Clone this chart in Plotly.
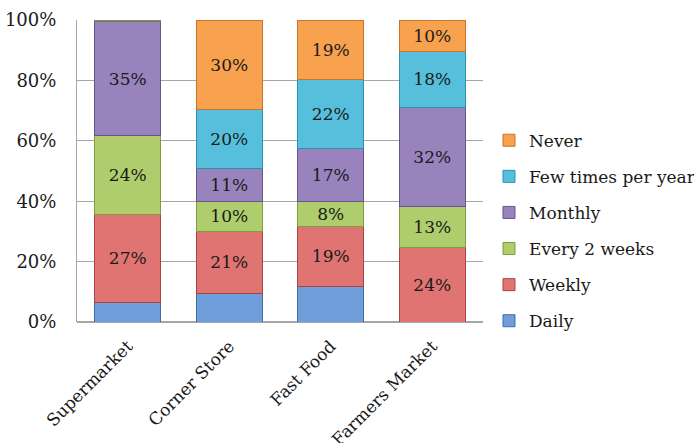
import plotly.graph_objects as go

categories = ["Supermarket", "Corner Store", "Fast Food", "Farmers Market"]
series_names = ["Daily", "Weekly", "Every 2 weeks", "Monthly", "Few times per year", "Never"]
daily = [6, 9.5, 11.5, 0]
weekly = [27, 21, 19, 24]
every2 = [24, 10, 8, 13]
monthly = [35, 11, 17, 32]
fewtimes = [0.4, 20, 22, 18]
never = [0, 30, 19, 10]
show_label = [False, True, True, True, True, True]
y_ticks = [0, 20, 40, 60, 80, 100]
y_ticklabels = ["0%", "20%", "40%", "60%", "80%", "100%"]

values = [daily, weekly, every2, monthly, fewtimes, never]
fills = ["#6f9edb", "#df7472", "#afcd6c", "#9983bd", "#56c0dc", "#f8a24f"]
edges = ["#3f6ea8", "#a84442", "#7f9d3c", "#69538d", "#2e90ac", "#c8722a"]

FONT = "DejaVu Serif"
fig = go.Figure()
n = len(series_names)
for i, (name, vals, fc, ec, lab) in enumerate(zip(series_names, values, fills, edges, show_label)):
    txt = [f"{v:.0f}%" if (lab and v >= 1) else "" for v in vals]
    fig.add_trace(go.Bar(
        x=categories, y=vals, name=name, legendgroup=name, legendrank=n - i,
        marker=dict(color=fc, line=dict(color=ec, width=1)),
        text=txt, textposition="inside", insidetextanchor="middle",
        textangle=0, constraintext="none",
        textfont=dict(family=FONT, size=17, color="#1a1a1a"),
    ))

fig.update_layout(
    barmode="stack", barnorm="percent", bargap=0.35,
    width=694, height=443,
    margin=dict(l=77, r=211, t=20, b=121),
    paper_bgcolor="white", plot_bgcolor="white",
    font=dict(family=FONT, size=17, color="#1a1a1a"),
    uniformtext=dict(minsize=17, mode="show"),
    legend=dict(
        traceorder="grouped", tracegroupgap=11,
        xref="container", x=0.7046, xanchor="left",
        y=0.66, yanchor="top",
        font=dict(family=FONT, size=17, color="#1a1a1a"),
        itemclick=False, borderwidth=0, bgcolor="rgba(0,0,0,0)",
    ),
    showlegend=True,
)
fig.update_yaxes(
    range=[0, 100], tickvals=y_ticks, ticktext=y_ticklabels,
    showgrid=True, gridcolor="#a6a6a6", gridwidth=1,
    zeroline=True, zerolinecolor="#a6a6a6",
    showline=True, linecolor="#a6a6a6", linewidth=1,
    ticks="", ticklabelstandoff=16, automargin=False,
    tickfont=dict(family=FONT, size=18, color="#1a1a1a"),
)
fig.update_xaxes(
    tickangle=-45, showline=False, ticks="", ticklabelstandoff=10,
    automargin=False,
    tickfont=dict(family=FONT, size=17, color="#1a1a1a"),
)
fig.write_html("out.html")
